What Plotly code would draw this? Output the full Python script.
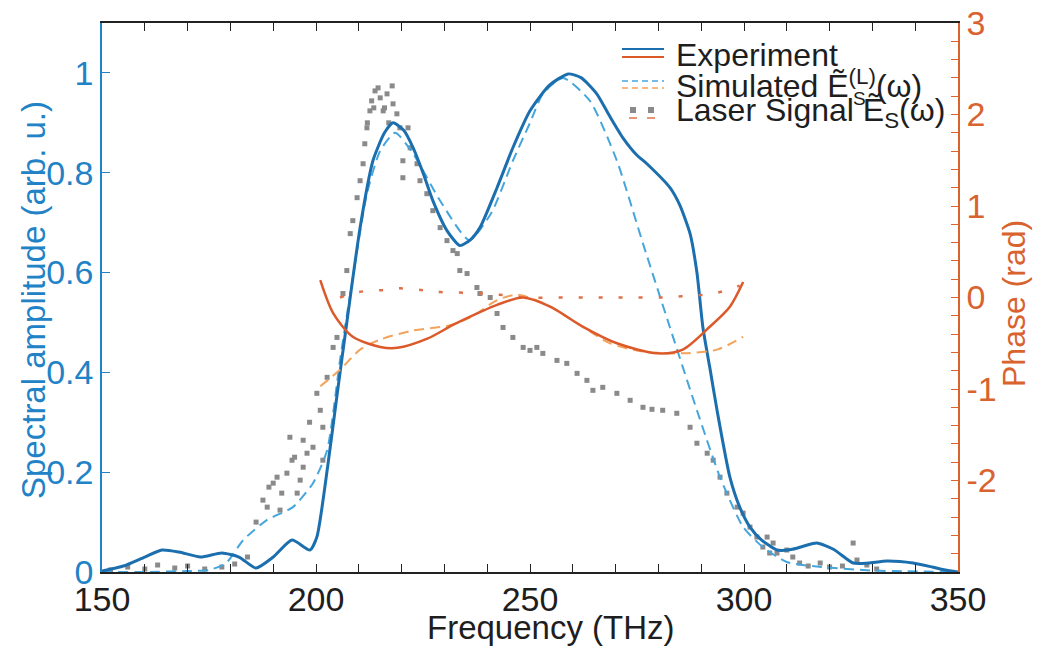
import plotly.graph_objects as go

# ---------------- data ----------------
exp_f = [150, 155, 160, 164, 168, 173, 178, 182, 186, 190, 194.4, 198.6, 200.2, 202.7, 205, 207.2,
         210.3, 213.3, 216, 218, 220.5, 222.7, 225, 227.3, 230.6, 233.6, 236, 238.3, 242.3, 246,
         250, 254.5, 258.9, 262, 265.6, 268.5, 271.7, 275, 277.3, 282.7, 285, 287.4, 289, 290.4,
         292, 293.7, 296.7, 299, 301.4, 304, 307.7, 311, 314, 317, 321, 325.5, 329, 333.4, 339.5,
         344, 347, 350]
exp_a = [0.002, 0.012, 0.03, 0.044, 0.04, 0.03, 0.038, 0.03, 0.008, 0.03, 0.064, 0.044, 0.07, 0.21,
         0.36, 0.5, 0.69, 0.824, 0.88, 0.9, 0.885, 0.85, 0.8, 0.744, 0.684, 0.654, 0.665, 0.69,
         0.77, 0.85, 0.924, 0.975, 0.998, 0.99, 0.958, 0.915, 0.87, 0.835, 0.818, 0.77, 0.735,
         0.678, 0.6, 0.49, 0.41, 0.324, 0.19, 0.13, 0.09, 0.065, 0.044, 0.045, 0.052, 0.058,
         0.045, 0.018, 0.018, 0.022, 0.018, 0.01, 0.004, 0.0]

sim_f = [150, 160, 170, 175, 179, 183, 188.5, 194.6, 199.3, 202.6, 205.6, 208.6, 211.9, 215,
         218.5, 222.7, 229, 235.8, 241, 246, 250, 253, 257.7, 264, 270.3, 276.4, 282.7, 289,
         294.4, 299.8, 304.4, 310, 318, 330, 350]
sim_a = [0, 0, 0.002, 0.004, 0.018, 0.064, 0.104, 0.13, 0.178, 0.244, 0.424, 0.59, 0.758, 0.844,
         0.88, 0.838, 0.744, 0.665, 0.72, 0.824, 0.9, 0.958, 0.99, 0.944, 0.824, 0.658, 0.49,
         0.324, 0.19, 0.09, 0.05, 0.02, 0.01, 0.003, 0]

las_f = [152, 156, 160, 163, 167, 170, 174, 178, 181, 184,
         186, 187.6, 188.6, 189, 190, 190.9, 191.6, 192, 193.2, 193.9, 194.4, 195, 195.6, 196.3,
         197, 197, 197.9, 198.5, 199.3, 200.2, 201, 201.6, 201.6, 202.6, 204, 204.9, 206.3, 207.2,
         208, 208.6, 209.6, 210.3, 211, 211.4, 211.9, 212, 212.6, 213, 213.5, 213.8, 214.5, 215,
         215.7, 216, 216.6, 217, 217.8, 218, 218.9, 219.6, 220.3, 220.3, 221.5, 222, 223.6, 224.3,
         225.9, 227.3, 229, 230.6, 232, 233, 233.6, 235.3, 237.6, 238.3, 240.7, 242.3, 243.7, 246,
         248.4, 250, 251.6, 253, 256.3, 258.6, 261, 263.3, 264.7, 267, 270.3, 273.4, 276.4, 278.5,
         281, 284.3, 287.4, 289, 291.4, 292.8, 294.4, 296, 298.4, 299.8, 301.4, 303, 304.4, 305.4,
         306, 306.8, 307.7, 310, 311.4, 313, 315, 317.8, 320, 323, 325.5, 326.4, 328.7, 331]
las_a = [0.004, 0.01, 0.006, 0.014, 0.008, 0.012, 0.006, 0.01, 0.016, 0.03,
         0.1, 0.144, 0.13, 0.17, 0.178, 0.19, 0.124, 0.158, 0.198, 0.27, 0.224, 0.23, 0.158, 0.184,
         0.21, 0.264, 0.238, 0.3, 0.25, 0.358, 0.324, 0.29, 0.224, 0.39, 0.45, 0.47, 0.558, 0.604,
         0.678, 0.704, 0.75, 0.784, 0.818, 0.858, 0.89, 0.9, 0.924, 0.944, 0.93, 0.964, 0.97, 0.95,
         0.924, 0.93, 0.958, 0.9, 0.974, 0.938, 0.918, 0.89, 0.824, 0.79, 0.89, 0.85, 0.818, 0.784,
         0.758, 0.724, 0.69, 0.664, 0.644, 0.638, 0.604, 0.598, 0.57, 0.558, 0.55, 0.518, 0.49, 0.47,
         0.45, 0.444, 0.45, 0.438, 0.424, 0.418, 0.398, 0.384, 0.364, 0.37, 0.358, 0.344, 0.33, 0.326,
         0.324, 0.318, 0.29, 0.258, 0.238, 0.224, 0.19, 0.158, 0.13, 0.118, 0.09, 0.07, 0.05, 0.07,
         0.038, 0.058, 0.038, 0.044, 0.03, 0.018, 0.012, 0.018, 0.01, 0.012, 0.058, 0.024, 0.014, 0.006]

ph_exp_f = [201, 204, 208.6, 215, 219, 226, 232, 238.3, 242.3, 248.4, 254.7, 262.4, 270.3, 279.7,
            285.7, 292, 296.7, 299.8]
ph_exp = [0.19, -0.17, -0.43, -0.54, -0.55, -0.45, -0.3, -0.16, -0.08, 0.0, -0.1, -0.32, -0.5,
          -0.61, -0.57, -0.32, -0.1, 0.17]

ph_sim_f = [201, 205.6, 210.3, 215, 222.7, 230.6, 236, 242.3, 247, 253, 261, 268.7, 276.4, 285.7,
            293.7, 299.8]
ph_sim = [-0.97, -0.79, -0.57, -0.46, -0.36, -0.31, -0.22, -0.03, 0.03, -0.06, -0.28, -0.5, -0.59,
          -0.61, -0.57, -0.43]

ph_las_f = [205.6, 210, 215, 219.6, 225, 229, 236.7, 243, 250, 258, 265.6, 273, 281, 287, 292.7, 299]
ph_las = [0.0, 0.06, 0.08, 0.1, 0.08, 0.06, 0.05, 0.03, 0.0, 0.0, 0.0, 0.0, 0.0, 0.02, 0.04, 0.13]

x_ticks = list(range(150, 351, 10))
x_labels = [str(v) if v % 50 == 0 else "" for v in x_ticks]
yl_ticks = [0, 0.2, 0.4, 0.6, 0.8, 1.0]
yl_labels = ["0", "0.2", "0.4", "0.6", "0.8", "1"]
yr_ticks = [round(-3 + 0.2 * i, 1) for i in range(31)]
yr_labels = [str(int(round(v))) if abs(v - round(v)) < 1e-9 and v > -3 else "" for v in yr_ticks]

# ---------------- style ----------------
BLUE = "#1b6fae"
LBLUE = "#45a6dc"
ORANGE = "#dc5a2a"
LORANGE = "#f3a35c"
DOTORANGE = "#e0704a"
GRAY = "#8a8a8a"
AXBLUE = "#2182c6"
AXORANGE = "#d9632f"
FONT = "Liberation Sans, Arial, sans-serif"

fig = go.Figure()
fig.add_trace(go.Scatter(x=las_f, y=las_a, mode="markers",
                         marker=dict(symbol="square", size=5, color=GRAY), yaxis="y"))
fig.add_trace(go.Scatter(x=sim_f, y=sim_a, mode="lines",
                         line=dict(color=LBLUE, width=2, dash="10px,6px", shape="spline", smoothing=0.6)))
fig.add_trace(go.Scatter(x=exp_f, y=exp_a, mode="lines",
                         line=dict(color=BLUE, width=3, shape="spline", smoothing=0.6)))
fig.add_trace(go.Scatter(x=ph_las_f, y=ph_las, mode="lines", yaxis="y2",
                         line=dict(color=DOTORANGE, width=2.5, dash="4px,16px", shape="spline")))
fig.add_trace(go.Scatter(x=ph_sim_f, y=ph_sim, mode="lines", yaxis="y2",
                         line=dict(color=LORANGE, width=2, dash="10px,6px", shape="spline", smoothing=0.8)))
fig.add_trace(go.Scatter(x=ph_exp_f, y=ph_exp, mode="lines", yaxis="y2",
                         line=dict(color=ORANGE, width=2.5, shape="spline", smoothing=0.8)))

W, H = 1037, 656
PX0, PX1, PY0, PY1 = 102, 958, 23, 572
L, R, T, B = PX0, W - PX1, PY0, H - PY1
PW, PH = PX1 - PX0, PY1 - PY0


def px(xp):
    return (xp - PX0) / PW


def py(yp):
    return (PY1 - yp) / PH


shapes = []
annotations = []
# legend samples
lx0, lx1 = 622, 664
shapes.append(dict(type="line", xref="paper", yref="paper", x0=px(lx0), x1=px(lx1), y0=py(49), y1=py(49),
                   line=dict(color=BLUE, width=2)))
shapes.append(dict(type="line", xref="paper", yref="paper", x0=px(lx0), x1=px(lx1), y0=py(57), y1=py(57),
                   line=dict(color=ORANGE, width=2)))
shapes.append(dict(type="line", xref="paper", yref="paper", x0=px(lx0), x1=px(lx1), y0=py(81), y1=py(81),
                   line=dict(color=LBLUE, width=1.5, dash="6px,4px")))
shapes.append(dict(type="line", xref="paper", yref="paper", x0=px(lx0), x1=px(lx1), y0=py(88), y1=py(88),
                   line=dict(color=LORANGE, width=1.5, dash="6px,4px")))
for cx in (633, 651):
    shapes.append(dict(type="rect", xref="paper", yref="paper", x0=px(cx - 3), x1=px(cx + 3),
                       y0=py(107), y1=py(113), fillcolor=GRAY, line=dict(width=0)))
    shapes.append(dict(type="line", xref="paper", yref="paper", x0=px(cx - 4), x1=px(cx + 4),
                       y0=py(118), y1=py(118), line=dict(color=DOTORANGE, width=1.5)))

LEGSIZE = 32
leg_font = dict(family=FONT, size=LEGSIZE, color="#1e1e1e")
annotations.append(dict(text="Experiment", xref="paper", yref="paper", x=px(674), y=py(55),
                        xanchor="left", yanchor="middle", showarrow=False, font=leg_font))
annotations.append(dict(text="Simulated Ẽ<sup>(L)</sup>(ω)", xref="paper", yref="paper", x=px(674), y=py(84),
                        xanchor="left", yanchor="middle", showarrow=False, font=leg_font))
annotations.append(dict(text="S", xref="paper", yref="paper", x=px(851), y=py(98),
                        xanchor="left", yanchor="middle", showarrow=False,
                        font=dict(family=FONT, size=19, color="#1e1e1e")))
annotations.append(dict(text="Laser Signal Ẽ<sub>S</sub>(ω)", xref="paper", yref="paper", x=px(674), y=py(113),
                        xanchor="left", yanchor="middle", showarrow=False, font=leg_font))

# axis titles
annotations.append(dict(text="Frequency (THz)", xref="paper", yref="paper", x=px(551), y=py(627),
                        xanchor="center", yanchor="middle", showarrow=False,
                        font=dict(family=FONT, size=33, color="#1e1e1e")))
annotations.append(dict(text="Spectral amplitude (arb. u.)", xref="paper", yref="paper", x=px(33), y=py(300),
                        xanchor="center", yanchor="middle", showarrow=False, textangle=-90,
                        font=dict(family=FONT, size=33, color=AXBLUE)))
annotations.append(dict(text="Phase (rad)", xref="paper", yref="paper", x=px(1014), y=py(303),
                        xanchor="center", yanchor="middle", showarrow=False, textangle=-90,
                        font=dict(family=FONT, size=32, color=AXORANGE)))

TICKSIZE = 34
fig.update_layout(
    width=W, height=H,
    margin=dict(l=L, r=R, t=T, b=B, pad=0, autoexpand=False),
    paper_bgcolor="white", plot_bgcolor="white",
    showlegend=False,
    xaxis=dict(range=[150, 350], tickmode="array", tickvals=x_ticks, ticktext=x_labels,
               ticks="inside", ticklen=8, tickwidth=1.2, tickcolor="#222",
               showline=True, linecolor="#222", linewidth=1.5, mirror="ticks",
               showgrid=False, zeroline=False, automargin=False, ticklabeloverflow="allow",
               ticklabelstandoff=-4,
               tickfont=dict(family=FONT, size=TICKSIZE, color="#1e1e1e")),
    yaxis=dict(range=[0, 1.1], tickmode="array", tickvals=yl_ticks, ticktext=yl_labels,
               ticks="inside", ticklen=8, tickwidth=1.2, tickcolor=AXBLUE,
               showline=True, linecolor=AXBLUE, linewidth=1.5, automargin=False,
               showgrid=False, zeroline=False, ticklabeloverflow="allow",
               tickfont=dict(family=FONT, size=TICKSIZE, color=AXBLUE)),
    yaxis2=dict(range=[-3, 3], overlaying="y", side="right", anchor="x",
                tickmode="array", tickvals=yr_ticks, ticktext=yr_labels,
                ticks="inside", ticklen=7, tickwidth=1.2, tickcolor=AXORANGE,
                showline=True, linecolor=AXORANGE, linewidth=1.5, automargin=False,
                showgrid=False, zeroline=False, ticklabeloverflow="allow",
                tickfont=dict(family=FONT, size=TICKSIZE, color=AXORANGE)),
    shapes=shapes,
    annotations=annotations,
)

# remove the default page margin so the figure fills the 1037x656 window exactly
fig.write_html("out.html", config={"displayModeBar": False},
               post_script="document.body.style.margin='0px';")
